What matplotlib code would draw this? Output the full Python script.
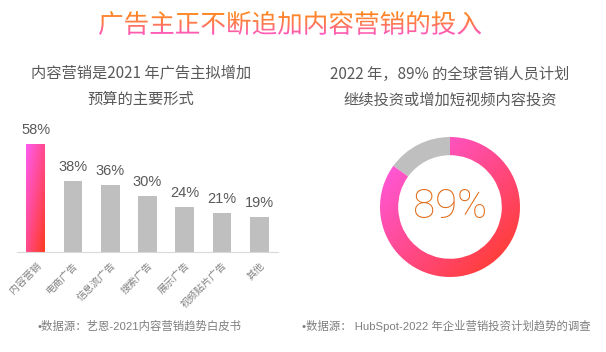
import numpy as np
import matplotlib
matplotlib.use('Agg')
import matplotlib.pyplot as plt
from matplotlib.colors import LinearSegmentedColormap
from matplotlib.textpath import TextPath
from matplotlib.font_manager import FontProperties
from matplotlib.patches import PathPatch
from matplotlib.transforms import Affine2D

plt.rcParams['font.family'] = ['Noto Sans CJK SC', 'DejaVu Sans']

# 数据
title = '广告主正不断追加内容营销的投入'
left_sub = ['内容营销是2021 年广告主拟增加', '预算的主要形式']
right_sub = ['2022 年，89% 的全球营销人员计划', '继续投资或增加短视频内容投资']
categories = ['内容营销', '电商广告', '信息流广告', '搜索广告', '展示广告', '视频贴片广告', '其他']
shares = [58, 38, 36, 30, 24, 21, 19]
ring_values = [85, 15]
ring_label = '89%'
left_note = '•数据源：艺恩-2021内容营销趋势白皮书'
right_note = '•数据源： HubSpot-2022 年企业营销投资计划趋势的调查'

W, H = 606, 352
fig = plt.figure(figsize=(W / 100, H / 100), dpi=100)

# 颜色
hot = LinearSegmentedColormap.from_list('hot', ['#ff5cf2', '#ff4a8c', '#ff3a1c'])
title_cmap = LinearSegmentedColormap.from_list('title', ['#ff8a1a', '#ff7a4a', '#ff55c8'])
grey_bar = '#bfbfbf'
text_grey = '#595959'
latin_cjk = ['Liberation Sans', 'Noto Sans CJK SC', 'DejaVu Sans']


def diag(n=200):
    yy, xx = np.mgrid[0:1:n * 1j, 0:1:n * 1j]
    return (xx + yy) / 2


# 像素坐标的底层画布
bg = fig.add_axes([0, 0, 1, 1])
bg.axis('off')

# 标题（渐变色文字）
fp = FontProperties(family='Noto Sans CJK SC')
tp = TextPath((0, 0), title, size=25.6, prop=fp)
ext = tp.get_extents()
cx, cy = 290, 23
tr = Affine2D().scale(1, -1).translate(cx - (ext.x0 + ext.x1) / 2, cy + (ext.y0 + ext.y1) / 2)
patch = PathPatch(tp, transform=tr + bg.transData, fc='none', lw=0)
bg.add_patch(patch)
grad = np.linspace(0, 1, 100).reshape(-1, 1)
im = bg.imshow(grad, cmap=title_cmap, aspect='auto',
               extent=[cx - ext.width / 2, cx + ext.width / 2, cy + ext.height / 2, cy - ext.height / 2])
im.set_clip_path(patch)

# 副标题
for i, line in enumerate(left_sub):
    bg.text(141, 73 + 26 * i, line, ha='center', va='center', fontsize=11, color=text_grey)
for i, line in enumerate(right_sub):
    bg.text(450, 74 + 26 * i, line, ha='center', va='center', fontsize=11, color=text_grey)

# 数据来源
bg.text(38, 326, left_note, ha='left', va='center', fontsize=8.2, color='#7f7f7f', family=latin_cjk)
bg.text(302, 326, right_note, ha='left', va='center', fontsize=8.2, color='#7f7f7f', family=latin_cjk)

bg.set_xlim(0, W)
bg.set_ylim(H, 0)

# 柱状图
ax = fig.add_axes([17 / W, 1 - 252 / H, 261 / W, 130 / H])
x = np.arange(len(categories))
bars = ax.bar(x, shares, width=0.5, color=grey_bar)
first = bars[0]
img = ax.imshow(diag(), cmap=hot, aspect='auto', zorder=first.get_zorder() + 0.1,
                extent=[first.get_x(), first.get_x() + first.get_width(), 0, first.get_height()])
img.set_clip_path(first)
first.set_facecolor('none')

for i, v in enumerate(shares):
    ax.annotate(f'{v}%', (i, v), xytext=(0, 5), textcoords='offset points',
                ha='center', va='bottom', fontsize=10.5, color=text_grey,
                family=['Liberation Sans Narrow', 'Liberation Sans', 'DejaVu Sans'])

ax.set_xlim(-0.5, len(categories) - 0.5)
ax.set_ylim(0, 70)
ax.set_xticks(x)
ax.set_xticklabels(categories, rotation=45, ha='right', rotation_mode='anchor',
                   fontsize=7.2, color='#808080')
ax.tick_params(axis='x', length=0, pad=6)
ax.set_yticks([])
for s in ['left', 'right', 'top']:
    ax.spines[s].set_visible(False)
ax.spines['bottom'].set_color('#d9d9d9')
ax.patch.set_alpha(0)

# 环形图
ax2 = fig.add_axes([(450 - 80) / W, 1 - (207 + 80) / H, 160 / W, 160 / H])
wedges, _ = ax2.pie(ring_values, radius=1, startangle=90, counterclock=False,
                    colors=['#ff4a8c', grey_bar], wedgeprops=dict(width=0.26, lw=0))
g = ax2.imshow(diag(), cmap=hot, extent=[-1, 1, -1, 1], zorder=wedges[0].get_zorder() + 0.1)
g.set_clip_path(wedges[0])
wedges[0].set_facecolor('none')
ax2.text(0, 0, ring_label, ha='center', va='center', fontsize=29, color='#e06c1a',
         family=['Roboto', 'DejaVu Sans'], fontweight='light')
ax2.set_xlim(-80 / 70, 80 / 70)
ax2.set_ylim(-80 / 70, 80 / 70)
ax2.set_aspect('equal')
ax2.axis('off')

fig.savefig('out.png', dpi=100)
